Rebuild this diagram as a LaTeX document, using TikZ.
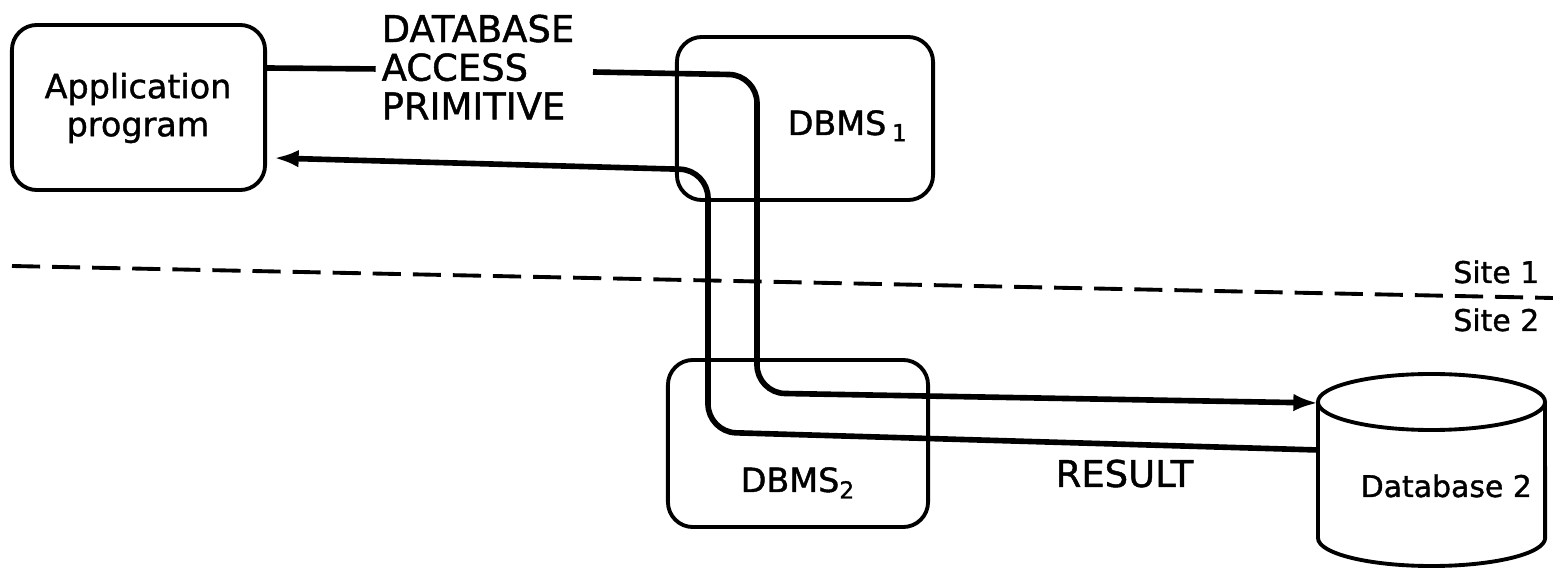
\documentclass[tikz,border=0pt]{standalone}
\usepackage{fontspec}
\setmainfont[FakeBold=1.2]{DejaVu Sans}
\usetikzlibrary{arrows.meta}
\begin{document}
\begin{tikzpicture}[x=0.01cm,y=-0.01cm,
  box/.style={draw,line width=1.1pt,rounded corners=0.25cm,inner sep=0pt},
  flow/.style={line width=1.6pt,rounded corners=0.28cm},
  tip/.style={-{Latex[length=7pt,width=5pt]}},
  txt/.style={inner sep=0pt,font=\fontsize{#1}{#1}\selectfont},
  sitesep/.style={line width=1.1pt,dash pattern=on 8pt off 3.4pt}]
\useasboundingbox (0,0) rectangle (1553,570);

% boxes
\node[box,minimum width=2.53cm,minimum height=1.65cm] (app) at (138.5,107.5) {};
\node[txt=9.5,align=center,font=\fontsize{9.5}{10.8}\selectfont] (apptxt) at (138,108) {Application\\program};
\node[box,minimum width=2.56cm,minimum height=1.63cm] (dbms1) at (805,118.5) {};
\node[txt=9.5,anchor=base west] (dbms1txt) at (787,135) {DBMS\,\textsubscript{1}};
\node[box,minimum width=2.60cm,minimum height=1.67cm] (dbms2) at (798,443.5) {};
\node[txt=9.5,anchor=base west] (dbms2txt) at (740,492) {DBMS\textsubscript{2}};

% database cylinder
\node[inner sep=0pt,minimum width=2.27cm,minimum height=1.92cm] (db) at (1431.5,470) {};
\coordinate (dbtop) at (1431.5,402);
\draw[line width=1.1pt] (dbtop) ellipse [x radius=1.135cm,y radius=0.28cm];
\draw[line width=1.1pt] (1318,402) -- (1318,538)
  arc[start angle=180,end angle=360,x radius=1.135cm,y radius=0.28cm] -- (1545,402);
\node[txt=8.5,anchor=base west] (dbtxt) at (1360,497) {Database 2};

% labels
\node[txt=10.5,anchor=west,align=left,font=\fontsize{10.5}{11}\selectfont] (prim) at (381,67) {DATABASE\\ACCESS\\PRIMITIVE};
\node[txt=10.5,anchor=base west] (result) at (1055,487) {RESULT};

% site boundary
\coordinate (sepL) at (12,266);
\coordinate (sepR) at (1553,298);
\draw[sitesep] (sepL) -- (sepR);
\node[txt=8.5,anchor=base east] (site1) at (1540,283) {Site 1};
\node[txt=8.5,anchor=base east] (site2) at (1540,331) {Site 2};

% request path
\coordinate (req0) at (593,72);
\coordinate (reqA) at (757,75);
\coordinate (reqB) at (757,393);
\coordinate (dbin) at (1318,403);
\draw[flow,shorten >=1.5pt] (app.east |- 0,68) -- (prim.west |- 0,69);
\draw[flow,tip] (req0) -- (reqA) -- (reqB) -- (dbin);

% result path
\coordinate (dbout) at (1318,450);
\coordinate (resA) at (708,432);
\coordinate (resB) at (708,170);
\draw[flow,tip] (dbout) -- (resA) -- (resB) -- ([xshift=2pt]app.east |- 0,158);
\end{tikzpicture}
\end{document}
